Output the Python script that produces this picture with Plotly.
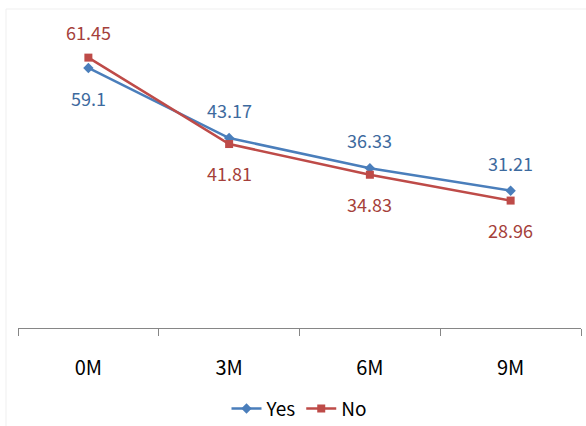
import plotly.graph_objects as go

categories = ["0M", "3M", "6M", "9M"]
yes_values = [59.1, 43.17, 36.33, 31.21]
no_values = [61.45, 41.81, 34.83, 28.96]
yes_label_pos = ["below", "above", "above", "above"]
no_label_pos = ["above", "below", "below", "below"]

YES_LINE = "#4A7EBB"
NO_LINE = "#BE4B48"
YES_TEXT = "#3D6A9E"
NO_TEXT = "#A53F3B"
FONT = "Noto Sans CJK KR, Open Sans, sans-serif"

fig = go.Figure()
fig.add_trace(go.Scatter(
    x=categories, y=yes_values, name="Yes", mode="lines+markers",
    line=dict(color=YES_LINE, width=2.5),
    marker=dict(symbol="diamond", size=8, color=YES_LINE),
))
fig.add_trace(go.Scatter(
    x=categories, y=no_values, name="No", mode="lines+markers",
    line=dict(color=NO_LINE, width=2.5),
    marker=dict(symbol="square", size=8, color=NO_LINE),
))

annotations = []
for c, v, p in zip(categories, yes_values, yes_label_pos):
    annotations.append(dict(x=c, y=v, text=str(v), showarrow=False,
                            yshift=28 if p == "above" else -30,
                            font=dict(size=18, color=YES_TEXT, family=FONT)))
for c, v, p in zip(categories, no_values, no_label_pos):
    annotations.append(dict(x=c, y=v, text=str(v), showarrow=False,
                            yshift=26 if p == "above" else -29,
                            font=dict(size=18, color=NO_TEXT, family=FONT)))

fig.update_layout(
    width=586, height=426,
    margin=dict(l=18, r=5, t=20, b=98, autoexpand=False),
    paper_bgcolor="white", plot_bgcolor="white",
    font=dict(family=FONT, size=18, color="#000000"),
    annotations=annotations,
    showlegend=True,
    legend=dict(orientation="h", x=0.5, xanchor="center", y=-0.2, yanchor="top",
                font=dict(size=19, color="#000000"), itemwidth=30,
                tracegroupgap=0),
    xaxis=dict(type="category", range=[-0.5, 3.5], showgrid=False,
               showline=True, linecolor="#868686", linewidth=1,
               ticks="outside", tickson="boundaries", ticklen=7,
               tickcolor="#868686", ticklabelstandoff=22, automargin=False,
               tickfont=dict(size=20, color="#000000")),
    yaxis=dict(range=[0, 70], visible=False, showgrid=False),
    shapes=[
        dict(type="line", xref="paper", yref="paper", x0=-0.0213, x1=-0.0213,
             y0=1.0357, y1=-0.35, line=dict(color="#EFEFEF", width=1)),
        dict(type="line", xref="paper", yref="paper", x0=-0.0213, x1=1.01,
             y0=1.0357, y1=1.0357, line=dict(color="#EFEFEF", width=1)),
    ],
)

fig.write_html("out.html")
